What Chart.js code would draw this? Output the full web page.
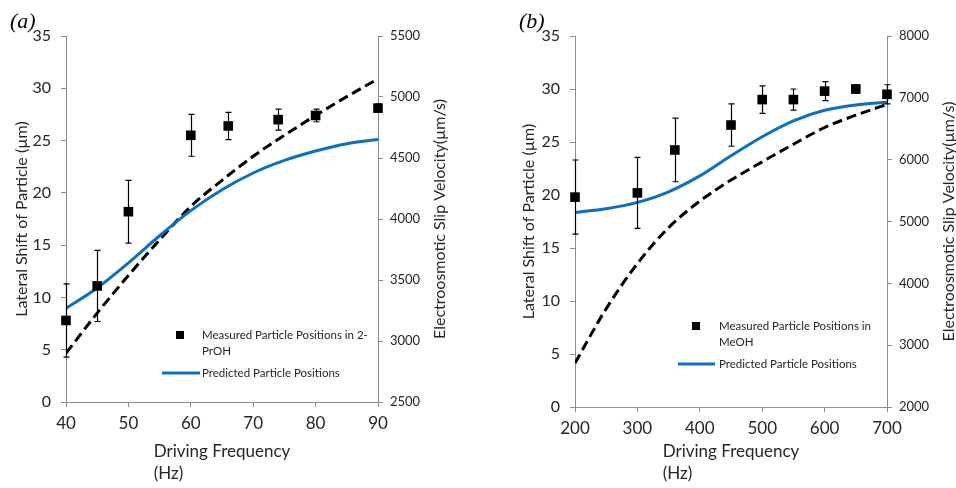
<!DOCTYPE html>
<html>
<head>
<meta charset="utf-8">
<script src="https://cdn.jsdelivr.net/npm/chart.js@4.4.1/dist/chart.umd.min.js"></script>
<style>
  html, body { margin: 0; padding: 0; background: #fff; }
  #contenedor { position: relative; width: 956px; height: 488px; overflow: hidden; }
  canvas { position: absolute; top: 0; }
</style>
</head>
<body>
<div id="contenedor">
  <canvas id="chartA" width="478" height="488" style="left:0"></canvas>
  <canvas id="chartB" width="478" height="488" style="left:478px"></canvas>
</div>
<script>
// --- DATOS panel (a): 2-PrOH ---
const frecMedidaA = [40, 45, 50, 60, 66, 74, 80, 90];
const desplMedidoA = [7.8, 11.1, 18.2, 25.5, 26.4, 27.0, 27.4, 28.1];
const errorA = [3.5, 3.4, 3.0, 2.0, 1.3, 1.0, 0.6, 0.4];
const frecCurvaA = [40, 45, 50, 55, 60, 65, 70, 75, 80, 85, 90];
const desplPredichoA = [8.95, 10.9, 13.3, 15.9, 18.3, 20.3, 21.9, 23.1, 24.0, 24.7, 25.1];
const velocidadA = [2899, 3229, 3537, 3829, 4103, 4317, 4514, 4686, 4849, 5003, 5149];

// --- DATOS panel (b): MeOH ---
const frecMedidaB = [200, 300, 360, 450, 500, 550, 600, 650, 700];
const desplMedidoB = [19.8, 20.2, 24.25, 26.6, 29.0, 29.0, 29.8, 30.0, 29.5];
const errorB = [3.5, 3.35, 3.0, 2.0, 1.3, 1.0, 0.9, 0.4, 0.9];
const frecCurvaB = [200, 250, 300, 350, 400, 450, 500, 550, 600, 650, 700];
const desplPredichoB = [18.35, 18.7, 19.3, 20.3, 21.8, 23.7, 25.5, 27.0, 28.0, 28.5, 28.75];
const velocidadB = [2711, 3590, 4320, 4900, 5330, 5670, 5965, 6250, 6520, 6720, 6894];

const FUENTE = 'Lato, "Liberation Sans", sans-serif';
const GRIS = '#8c8c8c';
const TEXTO = '#262626';
const AZUL = '#0a70c0';

const pares = (xs, ys) => xs.map((x, i) => ({ x: x, y: ys[i] }));

// Barras de error verticales
const barrasError = {
    id: 'barrasError',
    afterDatasetsDraw(chart) {
        const { ctx, scales } = chart;
        chart.data.datasets.forEach(ds => {
            if (!ds.errores) return;
            ctx.save();
            ctx.strokeStyle = '#000';
            ctx.lineWidth = 1.2;
            ds.data.forEach((p, j) => {
                const x = Math.round(scales.x.getPixelForValue(p.x)) + 0.5;
                const arriba = scales.y.getPixelForValue(p.y + ds.errores[j]);
                const abajo = scales.y.getPixelForValue(p.y - ds.errores[j]);
                ctx.beginPath();
                ctx.moveTo(x, arriba); ctx.lineTo(x, abajo);
                ctx.moveTo(x - 3, arriba); ctx.lineTo(x + 3, arriba);
                ctx.moveTo(x - 3, abajo); ctx.lineTo(x + 3, abajo);
                ctx.stroke();
            });
            ctx.restore();
        });
    }
};

// Títulos de ejes, etiqueta del panel y leyenda
const textos = {
    id: 'textos',
    afterDraw(chart, args, o) {
        const { ctx, chartArea: a } = chart;
        const cy = (a.top + a.bottom) / 2;
        ctx.save();
        ctx.fillStyle = '#000';
        ctx.font = 'italic 22px "Liberation Serif", serif';
        ctx.textBaseline = 'alphabetic';
        ctx.textAlign = 'left';
        ctx.fillText(o.panel, o.panelX, 28);

        ctx.fillStyle = TEXTO;
        ctx.textBaseline = 'middle';
        ctx.textAlign = 'center';
        ctx.font = '16px ' + FUENTE;
        ctx.save();
        ctx.translate(a.left - o.izqDist, cy);
        ctx.rotate(-Math.PI / 2);
        ctx.fillText('Lateral Shift of Particle (\u00b5m)', 0, 0);
        ctx.restore();
        ctx.save();
        ctx.translate(a.right + 62, cy);
        ctx.rotate(-Math.PI / 2);
        ctx.fillText('Electroosmotic Slip Velocity(\u00b5m/s)', 0, 0);
        ctx.restore();

        // titulo del eje x en dos lineas alineadas a la izquierda
        ctx.font = '17px ' + FUENTE;
        const t1 = 'Driving Frequency';
        const w1 = ctx.measureText(t1).width;
        const x0 = (a.left + a.right) / 2 - w1 / 2;
        ctx.textAlign = 'left';
        ctx.fillText(t1, x0, 452);
        ctx.fillText('(Hz)', x0, 474);

        // leyenda
        const L = o.leyenda;
        ctx.font = '11.5px ' + FUENTE;
        ctx.fillStyle = '#000';
        ctx.fillRect(a.left + L.marca - 4, a.top + L.y - 4, 8, 8);
        ctx.fillStyle = TEXTO;
        L.lineas.forEach((t, i) => ctx.fillText(t, a.left + L.texto, a.top + L.y + i * 16));
        ctx.strokeStyle = AZUL;
        ctx.lineWidth = 3;
        ctx.beginPath();
        ctx.moveTo(a.left + L.linea[0], a.top + L.yLinea);
        ctx.lineTo(a.left + L.linea[1], a.top + L.yLinea);
        ctx.stroke();
        ctx.fillText('Predicted Particle Positions', a.left + L.texto, a.top + L.yLinea);
        ctx.restore();
    }
};

function crearGrafico(id, cfg) {
    const ejeTicks = (size, pad) => ({
        color: TEXTO, font: { family: FUENTE, size: size }, padding: pad,
        callback: v => String(v)
    });
    const rejilla = { drawOnChartArea: false, color: GRIS, tickLength: 5, tickWidth: 1 };
    return new Chart(document.getElementById(id).getContext('2d'), {
        type: 'line',
        data: {
            datasets: [
                {
                    label: 'Measured',
                    data: pares(cfg.frecMedida, cfg.medido),
                    errores: cfg.error,
                    showLine: false,
                    clip: false,
                    pointStyle: 'rect',
                    pointRadius: 6.8,
                    backgroundColor: '#000',
                    borderColor: '#000',
                    borderWidth: 0,
                    yAxisID: 'y'
                },
                {
                    label: 'Predicted Particle Positions',
                    data: pares(cfg.frecCurva, cfg.predicho),
                    borderColor: AZUL,
                    borderWidth: 3,
                    pointRadius: 0,
                    cubicInterpolationMode: 'monotone',
                    yAxisID: 'y'
                },
                {
                    label: 'Slip velocity',
                    data: pares(cfg.frecCurva, cfg.velocidad),
                    borderColor: '#000',
                    borderWidth: 3,
                    borderDash: [10, 5],
                    pointRadius: 0,
                    cubicInterpolationMode: 'monotone',
                    yAxisID: 'y2'
                }
            ]
        },
        options: {
            responsive: false,
            devicePixelRatio: 1,
            animation: false,
            layout: { padding: { top: 36, left: 0, right: 0, bottom: 0 } },
            plugins: {
                legend: { display: false },
                tooltip: { enabled: false },
                textos: cfg.textos
            },
            scales: {
                x: {
                    type: 'linear',
                    min: cfg.xMin, max: cfg.xMax,
                    ticks: Object.assign({ stepSize: cfg.xPaso }, ejeTicks(17, 6)),
                    grid: rejilla,
                    border: { color: GRIS },
                    afterFit: s => { s.height = cfg.altoX; }
                },
                y: {
                    position: 'left',
                    min: 0, max: 35,
                    ticks: Object.assign({ stepSize: 5 }, ejeTicks(16, 10)),
                    grid: rejilla,
                    border: { color: GRIS },
                    afterFit: s => { s.width = cfg.anchoIzq; }
                },
                y2: {
                    position: 'right',
                    min: cfg.y2Min, max: cfg.y2Max,
                    ticks: Object.assign({ stepSize: cfg.y2Paso }, ejeTicks(13, 7)),
                    grid: rejilla,
                    border: { color: GRIS },
                    afterFit: s => { s.width = cfg.anchoDer; }
                }
            }
        },
        plugins: [barrasError, textos]
    });
}

crearGrafico('chartA', {
    frecMedida: frecMedidaA, medido: desplMedidoA, error: errorA,
    frecCurva: frecCurvaA, predicho: desplPredichoA, velocidad: velocidadA,
    xMin: 40, xMax: 90, xPaso: 10,
    y2Min: 2500, y2Max: 5500, y2Paso: 500,
    anchoIzq: 66, anchoDer: 100, altoX: 86,
    textos: {
        panel: '(a)', panelX: 10, izqDist: 44.5,
        leyenda: {
            marca: 114, texto: 136, y: 299, yLinea: 337, linea: [96, 134],
            lineas: ['Measured Particle Positions in 2-', 'PrOH']
        }
    }
});

crearGrafico('chartB', {
    frecMedida: frecMedidaB, medido: desplMedidoB, error: errorB,
    frecCurva: frecCurvaB, predicho: desplPredichoB, velocidad: velocidadB,
    xMin: 200, xMax: 700, xPaso: 100,
    y2Min: 2000, y2Max: 8000, y2Paso: 1000,
    anchoIzq: 97, anchoDer: 69, altoX: 81,
    textos: {
        panel: '(b)', panelX: 41, izqDist: 46,
        leyenda: {
            marca: 121, texto: 144, y: 290, yLinea: 328, linea: [103, 140],
            lineas: ['Measured Particle Positions in', 'MeOH']
        }
    }
});
</script>
</body>
</html>
